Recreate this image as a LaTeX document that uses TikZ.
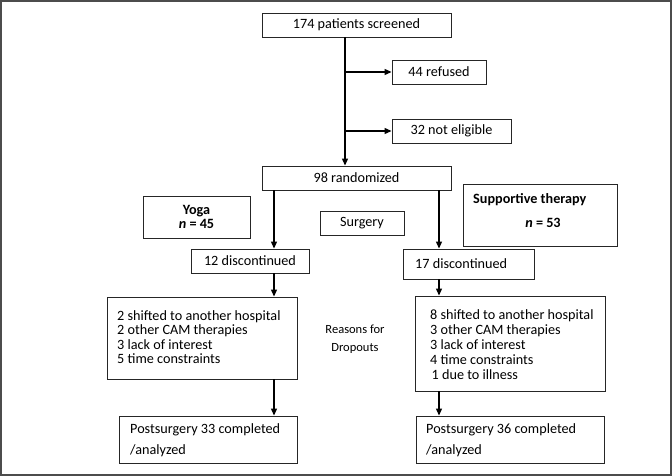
\documentclass[tikz,border=0pt]{standalone}
\usepackage{fontspec}
\setmainfont{Carlito}
\usetikzlibrary{arrows.meta}
\begin{document}
\begin{tikzpicture}[x=1pt,y=-1pt,
  box/.style={draw=black!85, line width=0.9pt, rectangle, inner sep=0pt, font=\fontsize{14.2}{15}\selectfont},
  lbl/.style={inner sep=0pt, font=\fontsize{14.2}{15}\selectfont},
  ltxt/.style={inner sep=0pt, anchor=west, align=left},
  arr/.style={line width=1.2pt, draw=black, -{Triangle[length=7pt,width=6pt]}}]
\useasboundingbox (0,0) rectangle (672,476);
\draw[line width=2pt, draw=black!70] (1,1) rectangle (670.5,474.5);
% top part
\node[box, minimum width=189pt, minimum height=24pt] (screened) at (356.5,25) {174 patients screened};
\node[box, minimum width=94pt, minimum height=24pt] (refused) at (439,72) {44 refused};
\node[box, minimum width=119pt, minimum height=24pt] (noteligible) at (451.5,131) {32 not eligible};
\node[box, minimum width=189pt, minimum height=24pt] (randomized) at (356.5,178) {98 randomized};
% groups
\node[box, minimum width=107pt, minimum height=42pt, font=\fontsize{14.2}{13.5}\selectfont\bfseries, align=center] (yoga) at (196.5,217) {Yoga\\\textit{n} = 45};
\node[box, minimum width=84pt, minimum height=24pt] (surgery) at (362,223) {Surgery};
\node[box, minimum width=154pt, minimum height=62pt] (supportive) at (540,215) {};
\node[lbl, font=\fontsize{14.2}{15}\selectfont\bfseries, anchor=west] (suptitle) at (473,200) {Supportive therapy};
\node[lbl, font=\fontsize{14.2}{15}\selectfont\bfseries] (supn) at (543,223) {\textit{n} = 53};
% discontinued
\node[box, minimum width=131pt, minimum height=30pt] (disc17) at (468.5,264) {};
\node[lbl, ltxt] (disc17t) at (415,264) {17 discontinued};
\node[box, minimum width=118pt, minimum height=24pt] (disc12) at (250,261) {12 discontinued};
% reasons
\node[box, minimum width=190pt, minimum height=82pt] (reasonsL) at (202,338) {};
\node[lbl, ltxt, font=\fontsize{14.2}{14.4}\selectfont] (reasonsLt) at (117,337) {2 shifted to another hospital\\2 other CAM therapies\\3 lack of interest\\5 time constraints};
\node[box, minimum width=190pt, minimum height=95pt] (reasonsR) at (510,343.5) {};
\node[lbl, ltxt, font=\fontsize{14.2}{15}\selectfont] (reasonsRt) at (430,345) {8 shifted to another hospital\\3 other CAM therapies\\3 lack of interest\\4 time constraints\\\hspace*{1.5pt}1 due to illness};
\node[lbl, font=\fontsize{12.5}{18}\selectfont, align=center] (dropouts) at (355,339) {Reasons for\\Dropouts};
% post surgery
\node[box, minimum width=178pt, minimum height=47pt] (postL) at (208,439.5) {};
\node[lbl, ltxt, font=\fontsize{14.2}{21}\selectfont] (postLt) at (130,440.5) {Postsurgery 33 completed\\/analyzed};
\node[box, minimum width=188pt, minimum height=47pt] (postR) at (510,439.5) {};
\node[lbl, ltxt, font=\fontsize{14.2}{21}\selectfont] (postRt) at (426,440.5) {Postsurgery 36 completed\\/analyzed};
% connector guide coordinates
\coordinate (vx) at (345,0);
\coordinate (lx) at (274,0);
\coordinate (rx) at (439,0);
% connectors
\draw[arr] (screened.south -| vx) -- (randomized.north -| vx);
\draw[arr] (vx |- refused) -- (refused.west);
\draw[arr] (vx |- noteligible) -- (noteligible.west);
\draw[arr] (randomized.south -| lx) -- (disc12.north -| lx);
\draw[arr] (randomized.south -| rx) -- (disc17.north -| rx);
\draw[arr] (disc12.south -| lx) -- (reasonsL.north -| lx);
\draw[arr] (disc17.south -| rx) -- (reasonsR.north -| rx);
\draw[arr] (reasonsL.south -| lx) -- (postL.north -| lx);
\draw[arr] (reasonsR.south -| rx) -- (postR.north -| rx);
\end{tikzpicture}
\end{document}
